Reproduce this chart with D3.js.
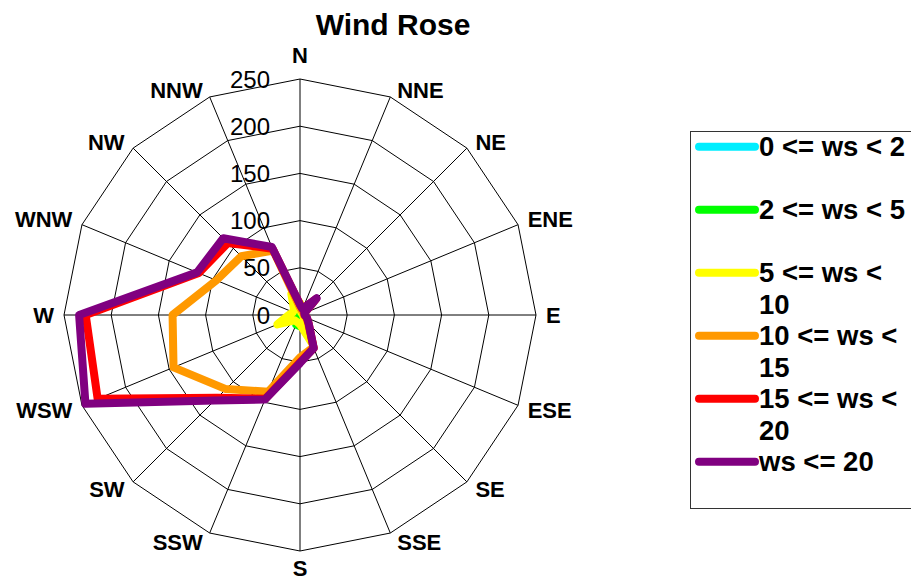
<!DOCTYPE html>
<html>
<head>
<meta charset="utf-8">
<script src="https://cdn.jsdelivr.net/npm/d3@7"></script>
<style>
  html, body { margin: 0; padding: 0; background: #fff; }
  svg { display: block; font-family: "Liberation Sans", Arial, Helvetica, sans-serif; }
</style>
</head>
<body>
<svg id="chart" width="911" height="583"></svg>
<script>
// ---- data ----
const directions = ["N","NNE","NE","ENE","E","ESE","SE","SSE","S","SSW","SW","WSW","W","WNW","NW","NNW"];
const seriesNames = ["0 <= ws < 2", "2 <= ws < 5", "5 <= ws < 10", "10 <= ws < 15", "15 <= ws < 20", "ws <= 20"];
const legendLines = [["0 <= ws < 2"], ["2 <= ws < 5"], ["5 <= ws <", "10"], ["10 <= ws <", "15"], ["15 <= ws <", "20"], ["ws <= 20"]];
const seriesColors = ["#00eeff", "#00ff00", "#ffff00", "#ff9900", "#ff0000", "#800080"];
const ws0_2   = [0,0,0,0,0,0,0,0,0,0,0,0,0,0,0,0];
const ws2_5   = [1,1,1,1,1,1,2,5,12,11,6,3,2,1,1,1];
const ws5_10  = [13,3,4,3,3,4,6,31,10,8,8,26,12,8,9,24];
const ws10_15 = [8,5,20,4,4,7,12,37,45,88,111,145,135,96,88,74];
const ws15_20 = [11,7,24,5,5,8,13,38,50,96,124,232,227,116,108,76];
const wsAll   = [11,7,25,5,5,8,13,38,51,97,128,246,234,118,115,78];
const tickValues = [0, 50, 100, 150, 200, 250];
const seriesValues = [ws0_2, ws2_5, ws5_10, ws10_15, ws15_20, wsAll];

// ---- layout ----
const svg = d3.select("#chart");
const cx = 300, cy = 315, R = 236;
const r = d3.scaleLinear().domain([0, 250]).range([0, R]);
const ang = d3.scaleLinear().domain([0, directions.length]).range([0, 2 * Math.PI]);

const g = svg.append("g").attr("transform", `translate(${cx},${cy})`);

// grid rings (polygons)
const ringLine = d3.lineRadial().angle((d, i) => ang(i)).radius(d => r(d)).curve(d3.curveLinearClosed);
tickValues.filter(v => v > 0).forEach(v => {
  g.append("path")
    .attr("d", ringLine(directions.map(() => v)))
    .attr("fill", "none").attr("stroke", "#000").attr("stroke-width", 1);
});
// spokes
directions.forEach((d, i) => {
  const a = ang(i);
  g.append("line")
    .attr("x1", 0).attr("y1", 0)
    .attr("x2", r(250) * Math.sin(a)).attr("y2", -r(250) * Math.cos(a))
    .attr("stroke", "#000").attr("stroke-width", 1);
});

// tick labels
g.selectAll("text.tick").data(tickValues).join("text")
  .attr("class", "tick")
  .attr("x", -30).attr("y", d => -r(d)).attr("dy", "0.36em")
  .attr("text-anchor", "end")
  .attr("font-size", 24).attr("fill", "#000")
  .text(d => d);

// direction labels
directions.forEach((d, i) => {
  const a = ang(i);
  const s = Math.sin(a), c = Math.cos(a);
  const vx = r(250) * s, vy = -r(250) * c;
  let x = vx, y = vy, anchor = "middle";
  if (Math.abs(s) < 1e-6) {
    anchor = "middle";
    y = c > 0 ? vy - 16 : vy + 25;
  } else {
    anchor = s > 0 ? "start" : "end";
    x = vx + (s > 0 ? 1 : -1) * (5 + 5 * Math.abs(s));
    if (Math.abs(c) < 1e-6) y = vy + 8;
    else if (c > 0) y = vy + 3 * Math.abs(s);
    else y = vy + 10 + 7 * Math.abs(c);
  }
  g.append("text")
    .attr("x", x).attr("y", y)
    .attr("text-anchor", anchor)
    .attr("font-size", 22).attr("font-weight", "bold").attr("fill", "#000")
    .text(d);
});

// series lines
const dataLine = d3.lineRadial().angle((d, i) => ang(i)).radius(d => r(d)).curve(d3.curveLinearClosed);
seriesValues.forEach((vals, k) => {
  g.append("path")
    .attr("d", dataLine(vals))
    .attr("fill", "none")
    .attr("stroke", seriesColors[k])
    .attr("stroke-width", 8)
    .attr("stroke-linejoin", "round");
});

// title
svg.append("text")
  .attr("x", 393).attr("y", 35)
  .attr("text-anchor", "middle")
  .attr("font-size", 30).attr("font-weight", "bold")
  .text("Wind Rose");

// legend
const lg = svg.append("g");
lg.append("rect")
  .attr("x", 690.5).attr("y", 131.5).attr("width", 240).attr("height", 377)
  .attr("fill", "#fff").attr("stroke", "#333").attr("stroke-width", 1);
const legendY = d3.scaleLinear().domain([0, 1]).range([146.7, 209.7]);
seriesNames.forEach((name, k) => {
  const y = legendY(k);
  lg.append("line")
    .attr("x1", 699).attr("x2", 755).attr("y1", y).attr("y2", y)
    .attr("stroke", seriesColors[k]).attr("stroke-width", 8).attr("stroke-linecap", "round");
  const t = lg.append("text")
    .attr("x", 759).attr("y", y + 9.5)
    .attr("font-size", 27.5).attr("font-weight", "bold").attr("fill", "#000");
  legendLines[k].forEach((ln, j) => {
    t.append("tspan").attr("x", 759).attr("dy", j === 0 ? 0 : 32).text(ln);
  });
});
</script>
</body>
</html>
